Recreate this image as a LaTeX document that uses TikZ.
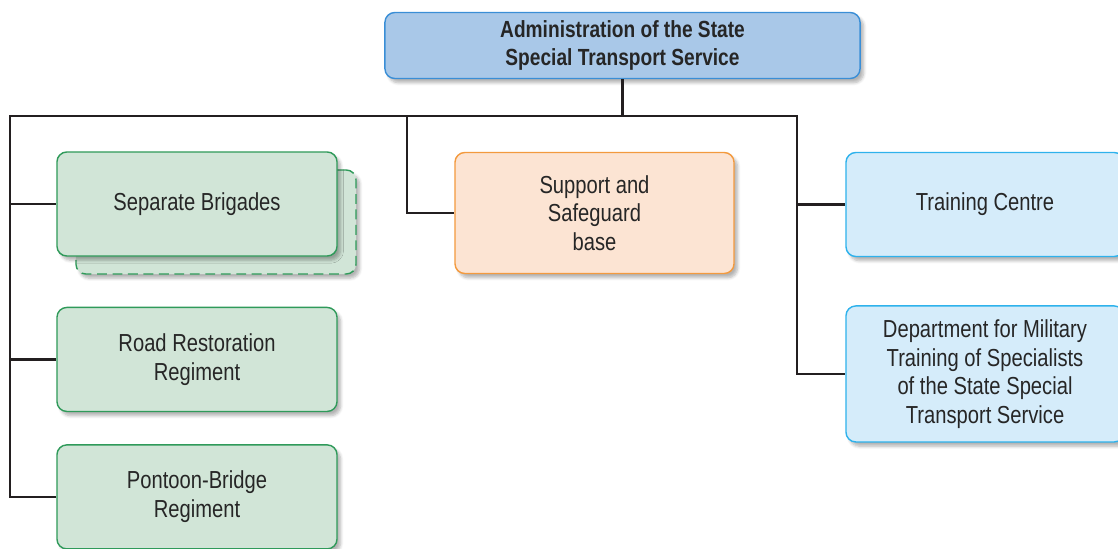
\documentclass[tikz,border=0pt]{standalone}
\usepackage{fontspec}
\setmainfont[FakeStretch=0.82]{Liberation Sans}
\usepackage{tikz}
\usetikzlibrary{positioning, shadows.blur}
\definecolor{ssLine}{HTML}{231F20}
\definecolor{ssText}{HTML}{262626}
\definecolor{ssHead}{HTML}{A9C8E8}
\definecolor{ssHeadB}{HTML}{3A8ED6}
\definecolor{ssGreen}{HTML}{D1E5D7}
\definecolor{ssGreenB}{HTML}{2F9A5A}
\definecolor{ssOrange}{HTML}{FCE4D3}
\definecolor{ssOrangeB}{HTML}{F39A3E}
\definecolor{ssBlue}{HTML}{D5ECFA}
\definecolor{ssBlueB}{HTML}{2EB2EC}

\begin{document}
\begin{tikzpicture}[
  x=0.025cm, y=-0.025cm,
  unit/.style={draw=#1B, fill=#1, line width=1pt, rounded corners=7pt,
               align=center, text=ssText, font=\fontsize{17.5}{20.3}\selectfont,
               minimum width=7cm, minimum height=2.6cm, inner sep=2pt,
               blur shadow={shadow xshift=2.5pt, shadow yshift=-3pt,
                            shadow blur steps=6, shadow opacity=30}},
  head/.style={unit=ssHead, minimum width=11.875cm, minimum height=1.65cm,
               font=\fontsize{16.6}{20}\selectfont\bfseries},
  ghost/.style={unit=ssGreen, dash pattern=on 7pt off 4pt},
  link/.style={draw=ssLine, line width=1.7pt}
]
  \clip (0,0) rectangle (1118,548);
  % Head
  \node[head] (adm) at (622.5,45.5) {Administration of the State\\Special Transport Service};
  % Units (left column)
  \node[ghost] (sbback) at (216,222) {};
  \node[unit=ssGreen] (sb) at (197,204) {Separate Brigades};
  \node[unit=ssGreen, below=1.25cm of sb] (rr) {Road Restoration\\Regiment};
  \node[unit=ssGreen, below=0.8cm of rr] (pb) {Pontoon-Bridge\\Regiment};
  % Support
  \node[unit=ssOrange, minimum width=6.975cm, minimum height=3.025cm] (sup) at (594.5,213)
    {Support and\\Safeguard\\base};
  % Training (right column)
  \node[unit=ssBlue, minimum width=6.95cm] (tc) at (985,204.5) {Training Centre};
  \node[unit=ssBlue, minimum width=6.95cm, minimum height=3.4cm, below=1.2cm of tc] (dep)
    {Department for Military\\Training of Specialists\\of the State Special\\Transport Service};

  \coordinate (busL) at (10,116);
  \coordinate (busM) at (407,116);
  \coordinate (busR) at (797,116);

  \draw[link] (adm.south) -- (adm.south |- busL);
  \draw[link] (pb.west) -| (busL) -- (busR) |- (dep.west);
  \draw[link] (busL |- sb.west) -- (sb.west);
  \draw[link] (busL |- rr.west) -- (rr.west);
  \draw[link] (busM) |- (sup.west);
  \draw[link] (busR |- tc.west) -- (tc.west);
\end{tikzpicture}
\end{document}
